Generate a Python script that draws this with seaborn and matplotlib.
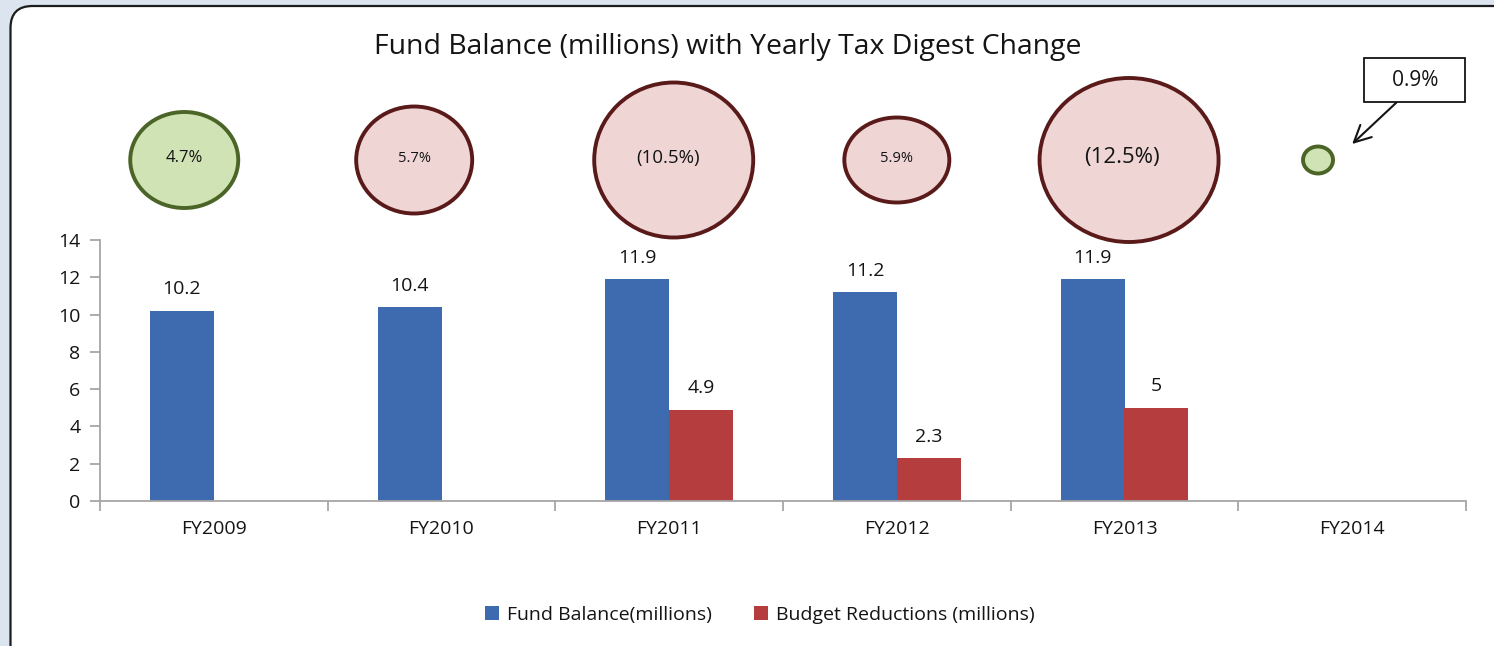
import numpy as np
import pandas as pd
import matplotlib
matplotlib.use("Agg")
import matplotlib.pyplot as plt
import seaborn as sns
from matplotlib.patches import Ellipse, FancyBboxPatch

# ---------------- data ----------------
years = ["FY2009", "FY2010", "FY2011", "FY2012", "FY2013", "FY2014"]
fund_balance = [10.2, 10.4, 11.9, 11.2, 11.9, None]
budget_reductions = [None, None, 4.9, 2.3, 5.0, None]
series_names = ["Fund Balance(millions)", "Budget Reductions (millions)"]
y_ticks = [0, 2, 4, 6, 8, 10, 12, 14]

digest_labels = ["4.7%", "5.7%", "(10.5%)", "5.9%", "(12.5%)", "0.9%"]
digest_direction = ["up", "down", "down", "down", "down", "up"]
# bubble placement (in category units) and bubble size (px)
bubble_x = [-0.13, 0.88, 2.02, 3.0, 4.02, 4.85]
bubble_w = [108, 116, 159, 105, 179, 30]
bubble_h = [96, 107, 155, 85, 164, 27]

title = "Fund Balance (millions) with Yearly Tax Digest Change"

# ---------------- styling ----------------
sns.set_theme(style="white")
plt.rcParams['font.family'] = ['Open Sans', 'DejaVu Sans']

W, H = 1494, 646
fig = plt.figure(figsize=(W / 100, H / 100), dpi=100)
fig.patch.set_facecolor('#dbe4ef')

card = FancyBboxPatch((0.105, -0.4), 15.5, 6.40 + 0.4,
                      boxstyle="round,pad=0,rounding_size=0.22",
                      transform=fig.dpi_scale_trans, facecolor='white',
                      edgecolor='#1c1c1c', linewidth=1.6, zorder=-10)
fig.add_artist(card)

blue = '#3e6bb0'
red = '#b53d3d'
grey = '#a6a6a6'
txt = '#141414'

# ---------------- bars ----------------
rows = []
for y, fb, br in zip(years, fund_balance, budget_reductions):
    if fb is not None:
        rows.append({"year": y, "series": series_names[0], "value": fb})
    if br is not None:
        rows.append({"year": y, "series": series_names[1], "value": br})
df = pd.DataFrame(rows)

ax = fig.add_axes([100 / W, 145 / H, 1366 / W, 261 / H])
ax.set_facecolor('none')
sns.barplot(data=df, x="year", y="value", hue="series", order=years,
            hue_order=series_names, palette=[blue, red], width=0.56,
            gap=0, saturation=1, ax=ax, errorbar=None, linewidth=0)

for cont in ax.containers:
    ax.bar_label(cont, fmt='%g', padding=9, fontsize=14, color=txt)

ax.set_xlim(-0.5, 5.5)
ax.set_ylim(0, 14)
ax.set_yticks(y_ticks)
ax.set_xlabel("")
ax.set_ylabel("")
for s in ["top", "right"]:
    ax.spines[s].set_visible(False)
for s in ["left", "bottom"]:
    ax.spines[s].set_color(grey)
    ax.spines[s].set_linewidth(1.3)
ax.tick_params(axis='y', direction='out', length=7, width=1.3, color=grey,
               labelsize=14, labelcolor=txt, pad=7, left=True)
ax.set_xticks(range(len(years)))
ax.set_xticklabels(years)
ax.set_xticks(np.arange(-0.5, len(years), 1.0), minor=True)
ax.tick_params(axis='x', which='major', length=0, labelsize=14, labelcolor=txt, pad=14)
ax.tick_params(axis='x', which='minor', direction='out', length=7, width=1.3,
               color=grey, bottom=True)

sns.move_legend(ax, "center", bbox_to_anchor=(0.483, -0.437), ncol=2,
                frameon=False, title=None, fontsize=14, handlelength=0.7,
                handleheight=0.7, handletextpad=0.4, columnspacing=2.2)
for t in ax.get_legend().get_texts():
    t.set_color(txt)

# ---------------- bubbles ----------------
axb = fig.add_axes([100 / W, (H - 250) / H, 1366 / W, 180 / H])
axb.set_xlim(-0.5, 5.5)
axb.set_ylim(0, 180)
axb.axis('off')
px_per_cat = 1366 / len(years)
colors = {"up": ('#d0e3b4', '#4b6527'), "down": ('#f0d5d5', '#5a1a1a')}
label_sizes = [12, 10.5, 13.5, 10.5, 16, 0]
label_shift = [0, 0, -0.025, 0, -0.03, 0]
for x, w, h, lab, d, fs, dx in zip(bubble_x, bubble_w, bubble_h, digest_labels,
                                   digest_direction, label_sizes, label_shift):
    fc, ec = colors[d]
    axb.add_patch(Ellipse((x, 90), w / px_per_cat, h, facecolor=fc,
                          edgecolor=ec, linewidth=2.8, clip_on=False))
    if fs > 0:
        axb.text(x + dx, 92, lab, ha='center', va='center', fontsize=fs, color=txt)

# callout for the small bubble
axb.annotate(f"   {digest_labels[-1]}   ", xy=(bubble_x[-1] + 0.15, 106),
             xytext=(bubble_x[-1] + 0.425, 170), ha='center', va='center',
             fontsize=15, color=txt,
             bbox=dict(boxstyle='square,pad=0.55', fc='white', ec=txt, lw=1.3),
             arrowprops=dict(arrowstyle='->,head_length=0.8,head_width=0.4',
                             color=txt, lw=1.5, relpos=(0.43, 0.0),
                             shrinkA=0, shrinkB=0),
             annotation_clip=False)

fig.text(728 / W, 1 - 47 / H, title, ha='center', va='center', fontsize=20.4, color=txt)

fig.savefig("out.png", dpi=100, facecolor=fig.get_facecolor())
